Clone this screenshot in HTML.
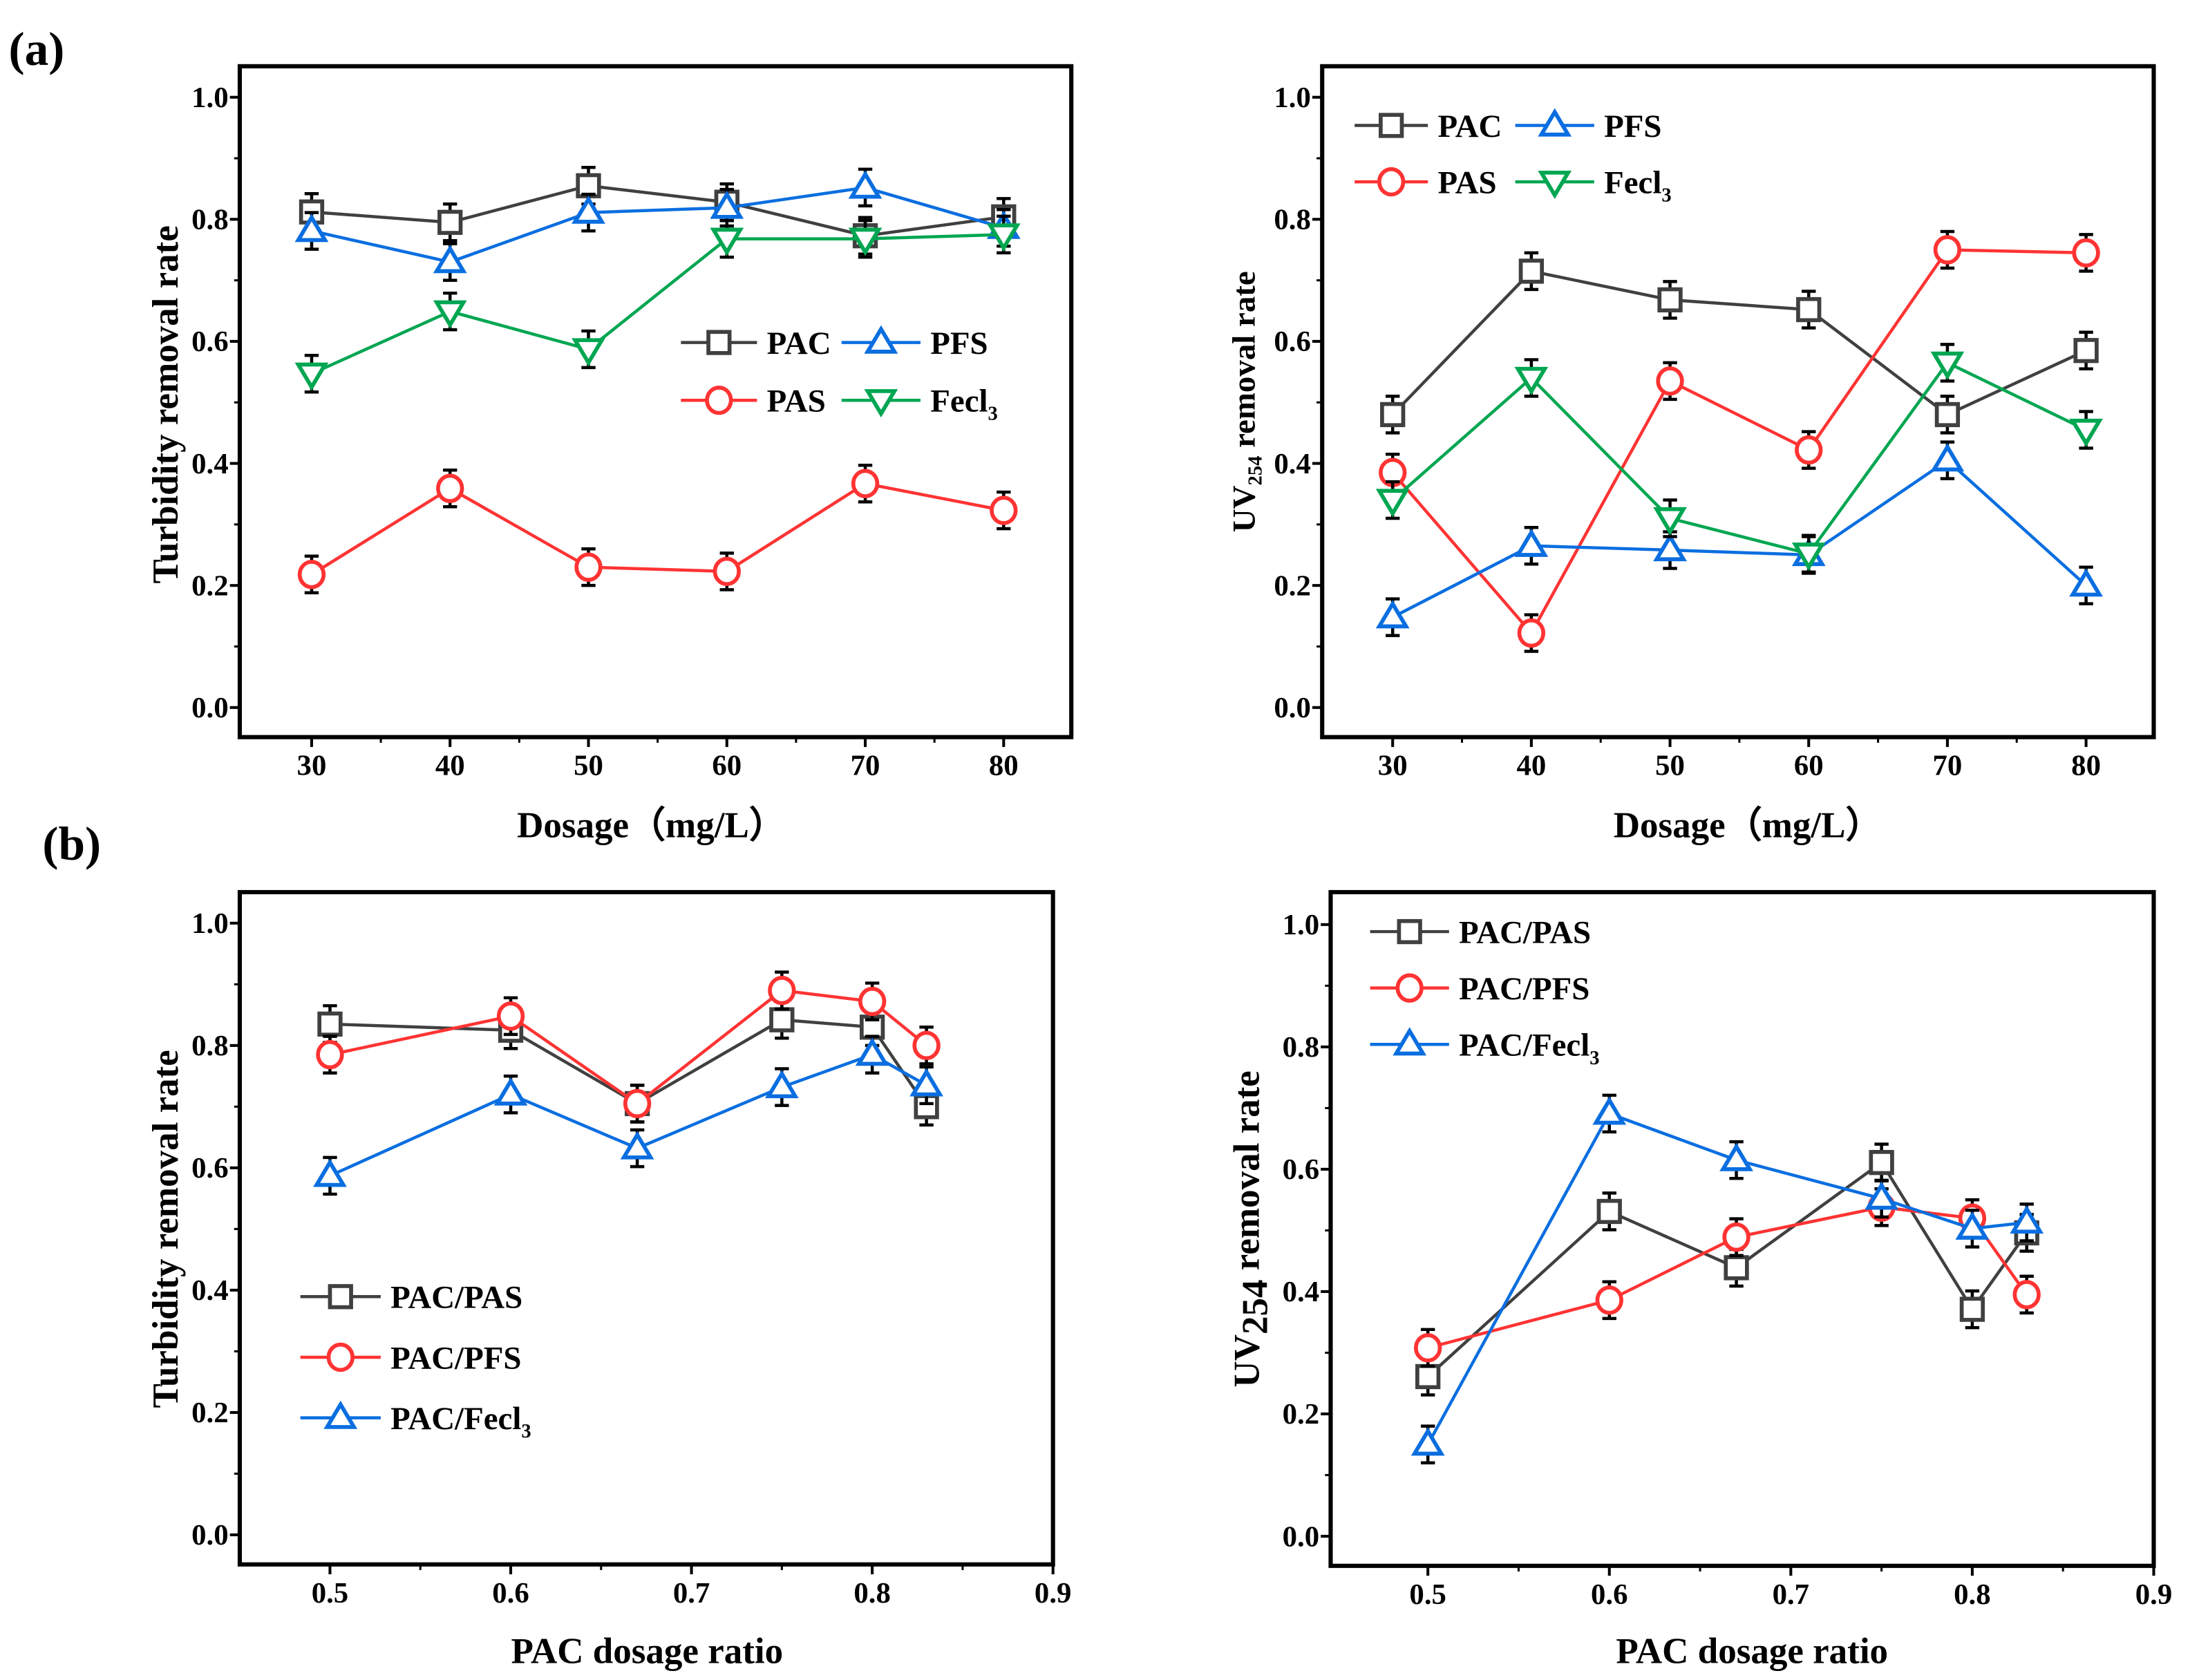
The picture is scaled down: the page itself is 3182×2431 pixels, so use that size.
<!DOCTYPE html>
<html><head><meta charset="utf-8"><style>
html,body{margin:0;padding:0;background:#fff;}
svg{display:block;}
text{font-family:"Liberation Serif",serif;font-weight:bold;fill:#000;}
</style></head><body>
<svg id="fig" width="3182" height="2431" viewBox="0 0 1560 1192" xmlns="http://www.w3.org/2000/svg">
<text x="6" y="46" font-size="34">(a)</text>
<text x="30" y="610" font-size="34">(b)</text>
</svg>
<script>
// ---- data ----
const dosage = [30, 40, 50, 60, 70, 80];
const turbPAC = [0.812, 0.795, 0.855, 0.828, 0.773, 0.804];
const turbPFS = [0.781, 0.730, 0.811, 0.819, 0.852, 0.786];
const turbFecl3 = [0.547, 0.649, 0.587, 0.768, 0.768, 0.775];
const turbPAS = [0.218, 0.359, 0.230, 0.223, 0.367, 0.323];
const uvPAC = [0.480, 0.715, 0.668, 0.652, 0.480, 0.585];
const uvPAS = [0.385, 0.122, 0.535, 0.422, 0.750, 0.745];
const uvPFS = [0.148, 0.265, 0.258, 0.250, 0.405, 0.200];
const uvFecl3 = [0.340, 0.540, 0.310, 0.252, 0.565, 0.455];
const ratio = [0.5, 0.6, 0.67, 0.75, 0.8, 0.83];
const bTurbPAS = [0.835, 0.825, 0.705, 0.842, 0.830, 0.700];
const bTurbPFS = [0.785, 0.848, 0.705, 0.890, 0.872, 0.800];
const bTurbFecl3 = [0.587, 0.720, 0.632, 0.732, 0.785, 0.735];
const bUvPAS = [0.261, 0.531, 0.439, 0.611, 0.371, 0.496];
const bUvPFS = [0.308, 0.386, 0.489, 0.538, 0.520, 0.395];
const bUvFecl3 = [0.150, 0.691, 0.615, 0.552, 0.503, 0.513];
const yTicks = [0.0, 0.2, 0.4, 0.6, 0.8, 1.0];
const dosageTicks = [30, 40, 50, 60, 70, 80];
const ratioTicks = [0.5, 0.6, 0.7, 0.8, 0.9];
const errBar = 0.03;

const C = {gray:'#404040', red:'#ff3333', blue:'#0a6ee0', green:'#00a651'};
const NS = 'http://www.w3.org/2000/svg';
const svg = document.getElementById('fig');
function mk(tag, attrs, parent){
  const e = document.createElementNS(NS, tag);
  for (const k in attrs) e.setAttribute(k, attrs[k]);
  (parent||svg).appendChild(e); return e;
}
function marker(g, type, x, y, color){
  const r = 8.5;
  let m;
  if (type==='sq') m = mk('rect',{x:x-r+1,y:y-r+1,width:2*r-2,height:2*r-2,fill:'#fff',stroke:color,'stroke-width':2.8},g);
  else if (type==='ci') m = mk('ellipse',{cx:x,cy:y,rx:r,ry:r+0.5,fill:'#fff',stroke:color,'stroke-width':2.8},g);
  else if (type==='up') m = mk('polygon',{points:`${x},${y-r-1} ${x-r-1},${y+r-2} ${x+r+1},${y+r-2}`,fill:'#fff',stroke:color,'stroke-width':2.8},g);
  else m = mk('polygon',{points:`${x},${y+r+1} ${x-r-1},${y-r+2} ${x+r+1},${y-r+2}`,fill:'#fff',stroke:color,'stroke-width':2.8},g);
  
  
}
function panel(P){
  const g = mk('g',{});
  
  
  const sx = v => P.x0 + (v - P.xmin)/(P.xmax - P.xmin)*(P.x1 - P.x0);
  const sy = v => P.yb - v*(P.yb - P.yt);
  P.xticks.forEach((t,i)=>{
    const x = sx(t);
    mk('line',{x1:x,y1:P.bottom,x2:x,y2:P.bottom+7,stroke:'#000','stroke-width':2},g);
    const tx = mk('text',{x:x,y:P.bottom+27,'font-size':21,'text-anchor':'middle'},g);
    tx.textContent = P.xlabels[i];
    
    
    if (i < P.xticks.length-1) {
      const xm = sx((t + P.xticks[i+1])/2);
      mk('line',{x1:xm,y1:P.bottom,x2:xm,y2:P.bottom+4,stroke:'#000','stroke-width':1.5},g);
    }
  });
  yTicks.forEach((t,i)=>{
    const y = sy(t);
    mk('line',{x1:P.left-7,y1:y,x2:P.left,y2:y,stroke:'#000','stroke-width':2},g);
    const ty = mk('text',{x:P.left-8,y:y+7,'font-size':21,'text-anchor':'end'},g);
    ty.textContent = t.toFixed(1);
    
    
    if (i < yTicks.length-1){
      const ym = sy(t+0.1);
      mk('line',{x1:P.left-4,y1:ym,x2:P.left,y2:ym,stroke:'#000','stroke-width':1.5},g);
    }
  });
  P.series.forEach(s=>{
    const sg = mk('g',{},g);
    
    
    const pts = P.xs.map((x,i)=>`${sx(x)},${sy(s.v[i])}`).join(' ');
    mk('polyline',{points:pts,fill:'none',stroke:s.c,'stroke-width':2.2},sg);
    P.xs.forEach((x,i)=>{
      const X = sx(x), Y1 = sy(s.v[i]+errBar), Y2 = sy(s.v[i]-errBar);
      mk('path',{d:`M${X},${Y1}V${Y2}M${X-5},${Y1}H${X+5}M${X-5},${Y2}H${X+5}`,stroke:'#000','stroke-width':2.2,fill:'none'},sg);
    });
    P.xs.forEach((x,i)=> marker(sg, s.m, sx(x), sy(s.v[i]), s.c));
  });
  const fr = mk('rect',{x:P.left,y:P.top,width:P.right-P.left,height:P.bottom-P.top,fill:'none',stroke:'#000','stroke-width':3},g);
  
  
  P.legend.forEach(l=>{
    const lg = mk('g',{},g);
    
    
    mk('line',{x1:l.x,y1:l.y,x2:l.x+l.w,y2:l.y,stroke:l.c,'stroke-width':2.2},lg);
    marker(lg, l.m, l.x+l.w/2, l.y, l.c);
    const t = mk('text',{x:l.x+l.w+7,y:l.y+8,'font-size':l.fs||23},lg);
    t.innerHTML = l.html;
  });
  const xt = mk('text',{x:P.xtx,y:P.xty,'font-size':26,'text-anchor':'middle'},g);
  xt.textContent = P.xtitle;
  
  
  const yt = mk('text',{x:0,y:0,'font-size':P.ytfs||26,'text-anchor':'middle',transform:`translate(${P.ytx},${P.yty}) rotate(-90)`},g);
  yt.innerHTML = P.ytitle;
  
  
}
const F = '<tspan font-size="14" dy="6">3</tspan>';
panel({name:'chart-a-turbidity', left:170,right:760,top:47,bottom:523, x0:221,x1:712,xmin:30,xmax:80, yb:502,yt:69,
  xs:dosage, xticks:dosageTicks, xlabels:dosageTicks.map(String),
  series:[{label:'PAC',v:turbPAC,c:C.gray,m:'sq'},{label:'PAS',v:turbPAS,c:C.red,m:'ci'},{label:'PFS',v:turbPFS,c:C.blue,m:'up'},{label:'Fecl3',v:turbFecl3,c:C.green,m:'dn'}],
  legend:[{x:483,y:243,w:54,c:C.gray,m:'sq',html:'PAC'},{x:597,y:243,w:56,c:C.blue,m:'up',html:'PFS'},
          {x:483,y:284,w:54,c:C.red,m:'ci',html:'PAS'},{x:597,y:284,w:56,c:C.green,m:'dn',html:'Fecl'+F}],
  xtitle:'Dosage（mg/L）', xtx:462, xty:594, ytitle:'Turbidity removal rate', ytx:126, yty:287});
panel({name:'chart-a-uv254', left:938,right:1528,top:47,bottom:523, x0:988,x1:1480,xmin:30,xmax:80, yb:502,yt:69,
  xs:dosage, xticks:dosageTicks, xlabels:dosageTicks.map(String),
  series:[{label:'PAC',v:uvPAC,c:C.gray,m:'sq'},{label:'PAS',v:uvPAS,c:C.red,m:'ci'},{label:'PFS',v:uvPFS,c:C.blue,m:'up'},{label:'Fecl3',v:uvFecl3,c:C.green,m:'dn'}],
  legend:[{x:961,y:89,w:52,c:C.gray,m:'sq',html:'PAC'},{x:1075,y:89,w:56,c:C.blue,m:'up',html:'PFS'},
          {x:961,y:129,w:52,c:C.red,m:'ci',html:'PAS'},{x:1075,y:129,w:56,c:C.green,m:'dn',html:'Fecl'+F}],
  xtitle:'Dosage（mg/L）', xtx:1240, xty:594, ytitle:'UV<tspan font-size="14" dy="5">254</tspan><tspan dy="-5"> removal rate</tspan>', ytfs:23, ytx:890, yty:285});
panel({name:'chart-b-turbidity', left:170,right:747,top:633,bottom:1110, x0:234,x1:747,xmin:0.5,xmax:0.9, yb:1089,yt:655,
  xs:ratio, xticks:ratioTicks, xlabels:ratioTicks.map(v=>v.toFixed(1)),
  series:[{label:'PAC/PAS',v:bTurbPAS,c:C.gray,m:'sq'},{label:'PAC/PFS',v:bTurbPFS,c:C.red,m:'ci'},{label:'PAC/Fecl3',v:bTurbFecl3,c:C.blue,m:'up'}],
  legend:[{x:213,y:920,w:57,c:C.gray,m:'sq',html:'PAC/PAS'},{x:213,y:963,w:57,c:C.red,m:'ci',html:'PAC/PFS'},{x:213,y:1006,w:57,c:C.blue,m:'up',html:'PAC/Fecl'+F}],
  xtitle:'PAC dosage ratio', xtx:459, xty:1180, ytitle:'Turbidity removal rate', ytx:126, yty:872});
panel({name:'chart-b-uv254', left:944,right:1528,top:633,bottom:1111, x0:1013,x1:1528,xmin:0.5,xmax:0.9, yb:1090,yt:656,
  xs:ratio, xticks:ratioTicks, xlabels:ratioTicks.map(v=>v.toFixed(1)),
  series:[{label:'PAC/PAS',v:bUvPAS,c:C.gray,m:'sq'},{label:'PAC/PFS',v:bUvPFS,c:C.red,m:'ci'},{label:'PAC/Fecl3',v:bUvFecl3,c:C.blue,m:'up'}],
  legend:[{x:972,y:661,w:56,c:C.gray,m:'sq',html:'PAC/PAS'},{x:972,y:701,w:56,c:C.red,m:'ci',html:'PAC/PFS'},{x:972,y:741,w:56,c:C.blue,m:'up',html:'PAC/Fecl'+F}],
  xtitle:'PAC dosage ratio', xtx:1243, xty:1180, ytitle:'UV<tspan font-size="26" dy="6">254</tspan><tspan dy="-6"> removal rate</tspan>', ytfs:26, ytx:893, yty:872});
</script>
</body></html>
